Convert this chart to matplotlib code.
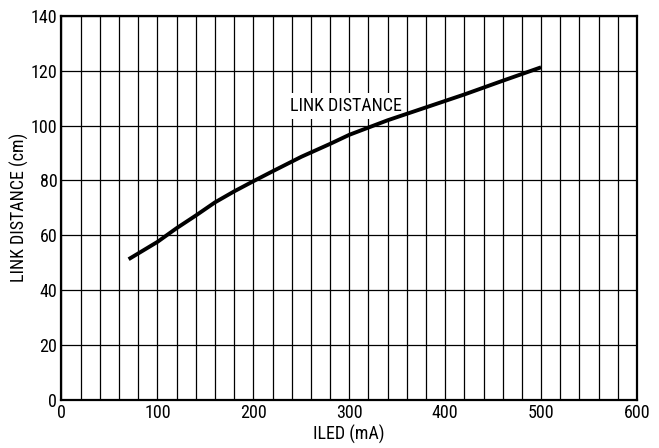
import numpy as np
import matplotlib.pyplot as plt
from matplotlib.ticker import MultipleLocator
from matplotlib import font_manager

# pick a narrow sans if there is one
names = {f.name for f in font_manager.fontManager.ttflist}
for fam in ['Liberation Sans Narrow', 'DejaVu Sans Condensed', 'Roboto Condensed', 'Liberation Sans']:
    if fam in names:
        plt.rcParams['font.family'] = fam
        break

iled = [70, 100, 120, 140, 160, 180, 200, 220, 250, 280, 300, 340, 380, 420, 460, 500]
link_distance = [51.3, 57.6, 62.6, 67.2, 72.0, 76.0, 79.7, 83.3, 88.6, 93.3, 96.6,
                 101.9, 106.6, 111.3, 116.3, 121.2]

fig = plt.figure(figsize=(6.59, 4.48), dpi=100)
ax = fig.add_axes([0.0933, 0.107, 0.8733, 0.858])

ax.plot(iled, link_distance, color='black', lw=2.8, solid_capstyle='butt',
        solid_joinstyle='round', zorder=3)

ax.set_xlim(0, 600)
ax.set_ylim(0, 140)
ax.xaxis.set_major_locator(MultipleLocator(100))
ax.xaxis.set_minor_locator(MultipleLocator(20))
ax.yaxis.set_major_locator(MultipleLocator(20))
ax.grid(which='both', color='black', lw=0.9, zorder=1)
ax.tick_params(which='both', length=0, labelsize=13, pad=3)

for s in ax.spines.values():
    s.set_linewidth(1.6)

ax.text(297, 107, 'LINK DISTANCE', fontsize=13, ha='center', va='center',
        bbox=dict(facecolor='white', edgecolor='none', pad=3), zorder=2)

ax.set_xlabel('ILED (mA)', fontsize=13, labelpad=2)
ax.set_ylabel('LINK DISTANCE (cm)', fontsize=13, labelpad=1)

fig.savefig('out.png', dpi=100)
